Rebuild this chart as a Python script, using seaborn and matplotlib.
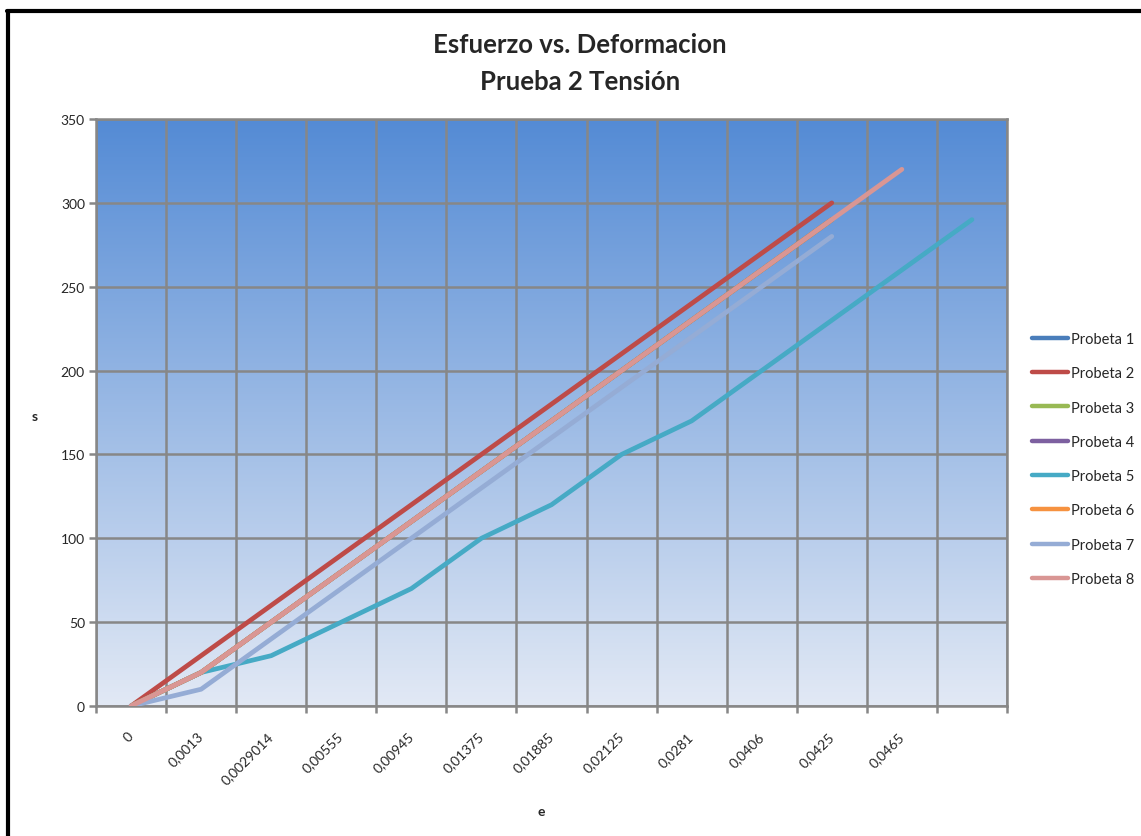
import numpy as np
import pandas as pd
import matplotlib
matplotlib.use("Agg")
import matplotlib.pyplot as plt
from matplotlib.lines import Line2D
import seaborn as sns

# Strain categories (the last category slot carries no label)
categories = ["0", "0,0013", "0,0029014", "0,00555", "0,00945", "0,01375",
              "0,01885", "0,02125", "0,0281", "0,0406", "0,0425", "0,0465", ""]

# Stress values per specimen, one value per strain category
probeta_1 = [0, 20, 50, 80, 110, 140, 170, 200, 230, 260, 290]
probeta_2 = [0, 30, 60, 90, 120, 150, 180, 210, 240, 270, 300]
probeta_3 = [0, 20, 50, 80, 110, 140, 170, 200, 230, 260, 290]
probeta_4 = [0, 20, 50, 80, 110, 140, 170, 200, 230, 260, 290]
probeta_5 = [0, 20, 30, 50, 70, 100, 120, 150, 170, 200, 230, 260, 290]
probeta_6 = [0, 20, 50, 80, 110, 140, 170, 200, 230, 260, 290]
probeta_7 = [0, 10, 40, 70, 100, 130, 160, 190, 220, 250, 280]
probeta_8 = [0, 20, 50, 80, 110, 140, 170, 200, 230, 260, 290, 320]

series = {
    "Probeta 1": probeta_1, "Probeta 2": probeta_2, "Probeta 3": probeta_3,
    "Probeta 4": probeta_4, "Probeta 5": probeta_5, "Probeta 6": probeta_6,
    "Probeta 7": probeta_7, "Probeta 8": probeta_8,
}
colors = ["#4A7EBB", "#BE4B48", "#98B954", "#7D60A0",
          "#46AAC5", "#F69240", "#95ACD5", "#D99694"]

rows = []
for name, vals in series.items():
    for i, v in enumerate(vals):
        rows.append({"idx": i, "s": v, "serie": name})
df = pd.DataFrame(rows)

sns.set_theme(style="white")
plt.rcParams["font.family"] = ["Lato", "DejaVu Sans"]

W, H = 1141, 837
fig = plt.figure(figsize=(W / 100, H / 100), dpi=100)
fig.patch.set_facecolor("white")
ax = fig.add_axes([96 / W, 1 - 707 / H, (1007 - 96) / W, (707 - 120) / H])

# Vertical gradient background of the plot area
top = np.array([84, 139, 213]) / 255
bot = np.array([226, 233, 245]) / 255
t = np.linspace(0, 1, 256)[:, None]
grad = (top * (1 - t) + bot * t)[:, None, :]
ax.imshow(grad, extent=[0, 1, 0, 1], transform=ax.transAxes, aspect="auto",
          zorder=0, interpolation="bicubic")

sns.lineplot(data=df, x="idx", y="s", hue="serie", palette=colors,
             hue_order=list(series.keys()), estimator=None, sort=False,
             linewidth=3.4, ax=ax, legend=False, zorder=3)
for ln in ax.lines:
    ln.set_solid_capstyle("round")
    ln.set_solid_joinstyle("round")

n = len(categories)
ax.set_xlim(-0.5, n - 0.5)
ax.set_ylim(0, 350)

grid_c = "#878787"
ax.set_xticks(np.arange(-0.5, n, 1.0))
ax.set_xticklabels([])
ax.set_xticks(np.arange(n), minor=True)
ax.set_xticklabels(categories, minor=True, rotation=45, ha="right", va="center",
                   rotation_mode="anchor", fontsize=10)
ax.tick_params(axis="x", which="minor", length=0, pad=20)
ax.tick_params(axis="x", which="major", length=5, width=1.8, color=grid_c,
               direction="out", bottom=True)
ax.set_yticks(np.arange(0, 351, 50))
ax.tick_params(axis="y", which="major", length=5, width=1.8, color=grid_c,
               direction="out", left=True, labelsize=10, pad=3)
ax.grid(True, which="major", color=grid_c, linewidth=1.8, zorder=1)
ax.set_axisbelow(True)
for sp in ax.spines.values():
    sp.set_color(grid_c)
    sp.set_linewidth(1.8)
ax.set_xlabel("")
ax.set_ylabel("")

# Title and axis labels
fig.text(580 / W, 1 - 45 / H, "Esfuerzo vs. Deformacion", ha="center", va="center",
         fontsize=18.5, fontweight="bold")
fig.text(580 / W, 1 - 82 / H, "Prueba 2 Tensión", ha="center", va="center",
         fontsize=18.5, fontweight="bold")
fig.text(541 / W, 1 - 812 / H, "e", ha="center", va="center", fontsize=10,
         fontweight="bold")
fig.text(35 / W, 1 - 417 / H, "s", ha="center", va="center", fontsize=10,
         fontweight="bold")

# Legend
handles = [Line2D([0], [0], color=c, lw=3.2) for c in colors]
fig.legend(handles, list(series.keys()), loc="center left",
           bbox_to_anchor=(1032 / W, 1 - 460 / H), frameon=False, fontsize=10.5,
           handlelength=2.5, handletextpad=0.2, labelspacing=1.39,
           borderaxespad=0, borderpad=0)

# Chart frame along the top and left edges
fig.add_artist(Line2D([8 / W, 8 / W], [0, 1 - 12 / H], transform=fig.transFigure,
                      color="black", lw=3))
fig.add_artist(Line2D([7 / W, 1], [1 - 12 / H, 1 - 12 / H], transform=fig.transFigure,
                      color="black", lw=3))

fig.savefig("out.png", dpi=100)
